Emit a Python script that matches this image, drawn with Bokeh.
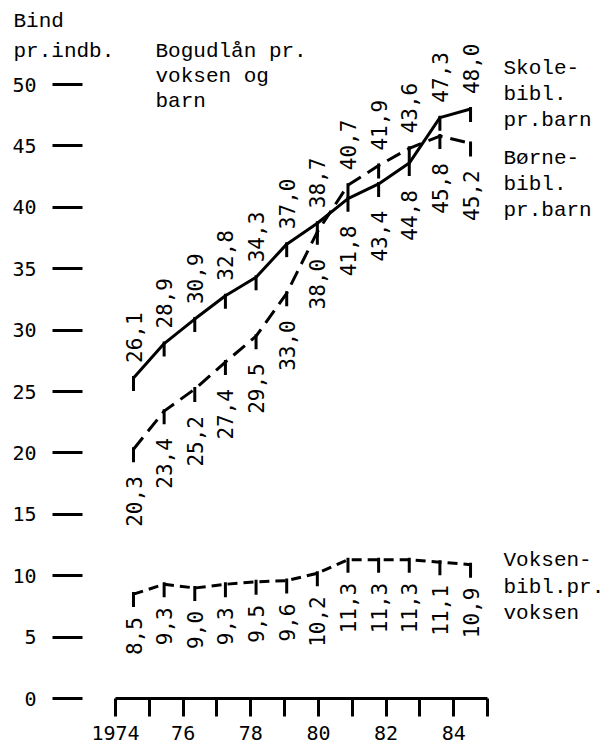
import numpy as np
from bokeh.plotting import figure
from bokeh.models import Range1d, LinearAxis, FixedTicker, Label, ColumnDataSource
from bokeh.embed import file_html
from bokeh.resources import INLINE
from bokeh.core.properties import value

# ---------------- data ----------------
years = [1974, 1975, 1976, 1977, 1978, 1979, 1980, 1981, 1982, 1983, 1984, 1985]
skole = [26.1, 28.9, 30.9, 32.8, 34.3, 37.0, 38.7, 40.7, 41.9, 43.6, 47.3, 48.0]
borne = [20.3, 23.4, 25.2, 27.4, 29.5, 33.0, 38.0, 41.8, 43.4, 44.8, 45.8, 45.2]
voksen = [8.5, 9.3, 9.0, 9.3, 9.5, 9.6, 10.2, 11.3, 11.3, 11.3, 11.1, 10.9]
y_ticks = [0, 5, 10, 15, 20, 25, 30, 35, 40, 45, 50]
x_tick_labels = ["1974", "", "76", "", "78", "", "80", "", "82", "", "84", ""]

# ---------------- layout (page pixels) ----------------
W, H = 609, 749
FRAME_L, FRAME_R, FRAME_T, FRAME_B = 82, 609, 20, 698
PT_X0, PT_DX = 133, 30.64      # first data point x, px per year
AX_X0, AX_DX = 115, 33.82      # first axis tick x, px per year
PX_PER_UNIT = 12.28

def X(px):
    return years[0] + (px - PT_X0) / PT_DX

def Y(py):
    return (FRAME_B - py) / PX_PER_UNIT

MONO_NUM = "DejaVu Sans Mono"
MONO_TXT = "Liberation Mono"

p = figure(width=W, height=H,
           x_range=Range1d(X(FRAME_L), X(FRAME_R)),
           y_range=Range1d(0, Y(FRAME_T)),
           x_axis_type=None,
           output_backend="svg", toolbar_location=None,
           min_border_left=FRAME_L, min_border_right=W - FRAME_R,
           min_border_top=FRAME_T, min_border_bottom=H - FRAME_B,
           outline_line_color=None, background_fill_color="white")
p.ygrid.grid_line_color = None

p.extra_x_ranges = {"axis": Range1d(years[0] - (AX_X0 - FRAME_L) / AX_DX,
                                    years[0] + (FRAME_R - AX_X0) / AX_DX)}

# y axis
ya = p.yaxis[0]
ya.ticker = FixedTicker(ticks=y_ticks)
ya.axis_line_color = None
ya.major_tick_in = 0
ya.major_tick_out = 30
ya.major_tick_line_width = 3
ya.major_tick_line_color = "black"
ya.minor_tick_line_color = None
ya.major_label_standoff = 16
ya.major_label_text_font = MONO_NUM
ya.major_label_text_font_size = "20px"
ya.major_label_text_color = "black"

# x axis
xa = LinearAxis(x_range_name="axis",
                ticker=FixedTicker(ticks=years),
                bounds=(years[0], years[-1]),
                major_label_overrides={yr: lab for yr, lab in zip(years, x_tick_labels)},
                axis_line_width=3, axis_line_color="black",
                major_tick_line_width=3, major_tick_line_color="black",
                major_tick_in=0, major_tick_out=18,
                minor_tick_line_color=None,
                major_label_standoff=9,
                major_label_text_font=MONO_NUM,
                major_label_text_font_size="20px",
                major_label_text_color="black")
p.add_layout(xa, "below")

# ---------------- series ----------------
tick_len = 13 / PX_PER_UNIT
tick_up = 2 / PX_PER_UNIT

def series(vals, dash):
    p.line(years, vals, line_width=3, line_color="black", line_dash=dash)
    v = np.array(vals)
    p.segment(x0=years, y0=v + tick_up, x1=years, y1=v - tick_len,
              line_width=3, line_color="black")

series(skole, "solid")
series(borne, "15 8")
series(voksen, "10 6")

def fmt(v):
    return f"{v:.1f}".replace(".", ",")

sk = np.array(skole); bo = np.array(borne); vo = np.array(voksen)

src_top = ColumnDataSource(dict(x=years, y=np.maximum(sk, bo), t=[fmt(v) for v in skole]))
src_mid = ColumnDataSource(dict(x=years, y=np.minimum(sk, bo), t=[fmt(v) for v in borne]))
src_bot = ColumnDataSource(dict(x=years, y=vo, t=[fmt(v) for v in voksen]))

common = dict(angle=np.pi / 2, text_font=value(MONO_NUM), text_font_size=value("21px"),
              text_color="black", text_baseline="middle")
p.text(x="x", y="y", text="t", source=src_top, text_align="left", y_offset=-15, **common)
p.text(x="x", y="y", text="t", source=src_mid, text_align="right", y_offset=27, **common)
p.text(x="x", y="y", text="t", source=src_bot, text_align="right", y_offset=23, **common)

# ---------------- free texts ----------------
SHIFT = -6

def add_lines(lines, px, baselines, font):
    for txt, b in zip(lines, baselines):
        p.add_layout(Label(x=X(px), y=Y(b + SHIFT), text=txt, text_font=font,
                           text_font_size="21px", text_color="black",
                           text_align="left", text_baseline="alphabetic"))

# y-axis unit text lies left of the frame: an overlay-level text glyph
unit_lines = ["Bind", "pr.indb."]
unit_base = [27, 57]
p.text(x=[X(13)] * 2, y=[Y(b + SHIFT) for b in unit_base], text=unit_lines,
       text_font=value(MONO_TXT), text_font_size=value("21px"), text_color="black",
       text_align="left", text_baseline="alphabetic", level="overlay")

add_lines(["Bogudlån pr.", "voksen og", "barn"], 155, [57, 82, 107], MONO_TXT)
add_lines(["Skole-", "bibl.", "pr.barn"], 503, [74, 100, 126], MONO_TXT)
add_lines(["Børne-", "bibl.", "pr.barn"], 503, [164, 190, 216], MONO_TXT)
add_lines(["Voksen-", "bibl.pr.", "voksen"], 503, [566, 593, 619], MONO_TXT)

open("out.html", "w").write(file_html(p, INLINE))
